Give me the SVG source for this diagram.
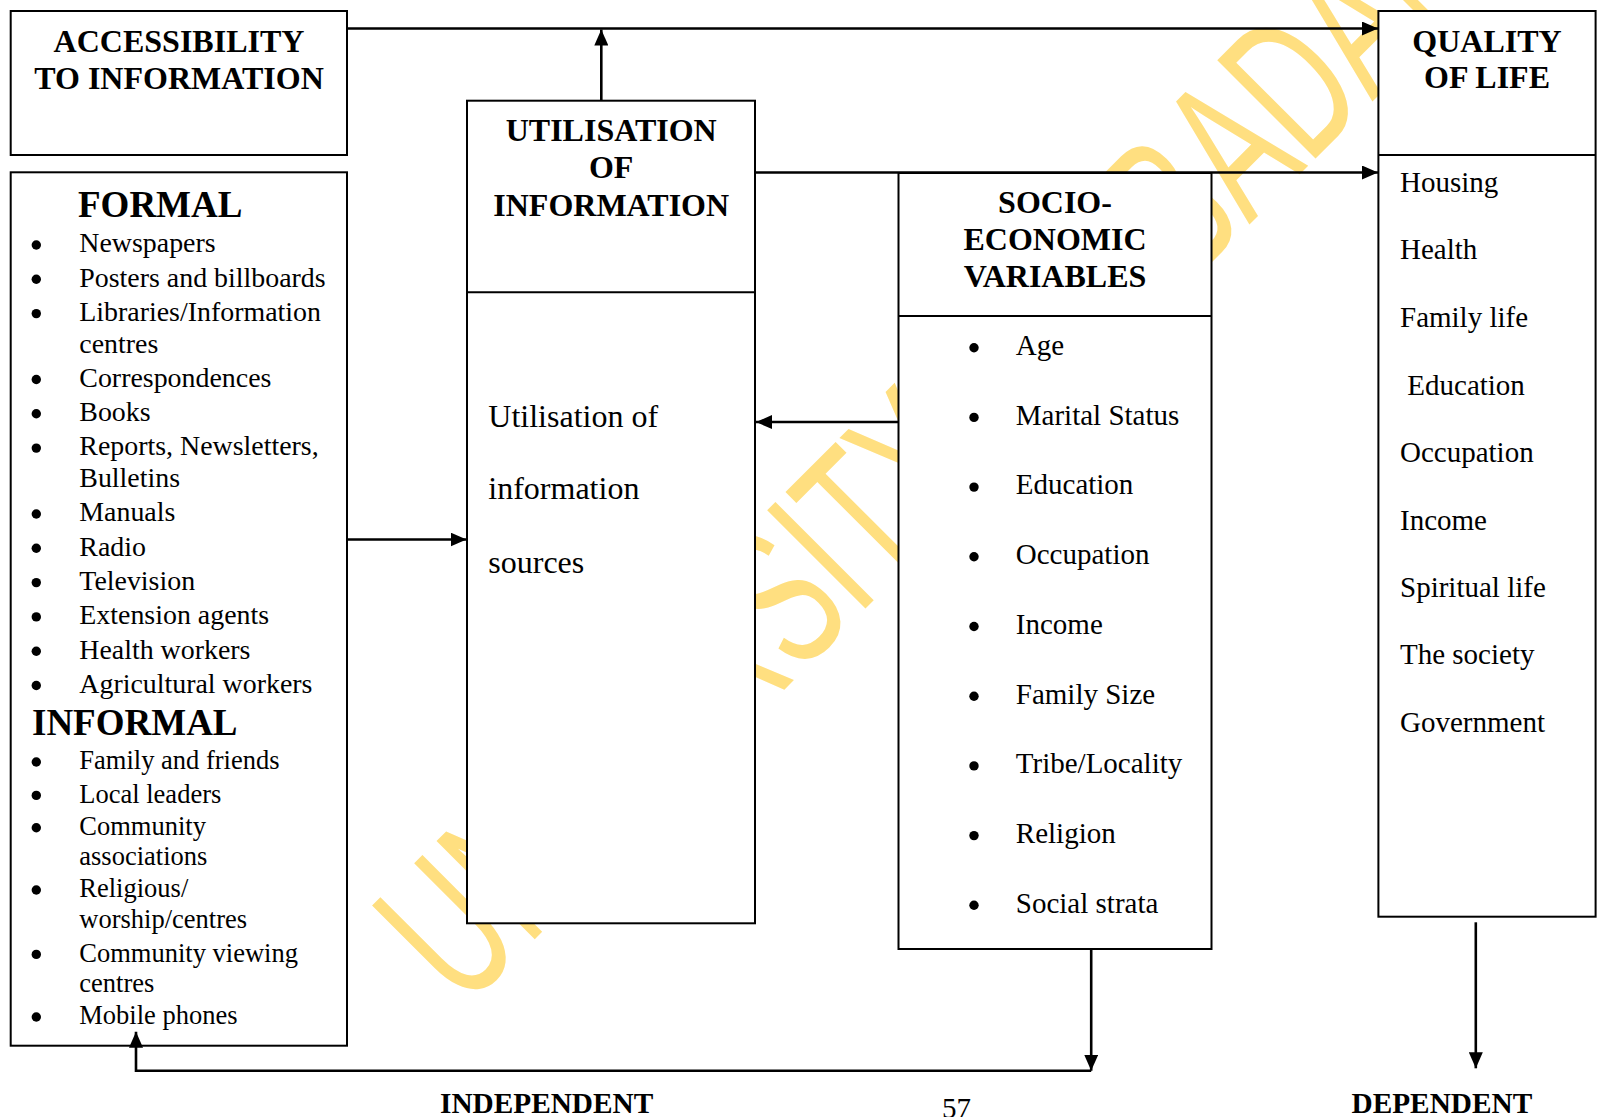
<svg xmlns="http://www.w3.org/2000/svg" width="1597" height="1117" viewBox="0 0 1597 1117">
<style>
.box{fill:#fff;stroke:#000;stroke-width:2}
.div{stroke:#000;stroke-width:2}
.con{fill:none;stroke:#000;stroke-width:2.6}
.t{font-family:"Liberation Serif","Times New Roman",serif;fill:#000}
.h{font-weight:bold;font-size:32px;text-anchor:middle}
.hh{font-weight:bold;font-size:37px}
.f{font-size:27.9px}
.i{font-size:26.5px}
.s{font-size:29px}
.u{font-size:32px}
.b{font-weight:bold;font-size:29.3px}
.wm{font-family:"Liberation Sans",Arial,sans-serif;font-size:202px;fill:#FFDF80}
</style>
<defs>
<marker id="ah" viewBox="0 0 16 14" refX="16" refY="7" markerWidth="16" markerHeight="14" markerUnits="userSpaceOnUse" orient="auto"><path d="M0,0 L16,7 L0,14 z" fill="#000"/></marker>
<g id="dot"><circle r="4.7" fill="#000"/></g>
</defs>
<rect width="1597" height="1117" fill="#fff"/>
<text class="wm" transform="translate(463.5,1010.5) rotate(-45) scale(0.62,1)">UNIVERSITY OF IBADAN</text>

<g id="accessibility">
<rect class="box" x="10.7" y="11" width="336.3" height="144"/>
<text class="t h" x="179" y="51.7">ACCESSIBILITY</text>
<text class="t h" x="179" y="89.3">TO INFORMATION</text>
</g>

<g id="sources">
<rect class="box" x="10.7" y="172.3" width="336.3" height="873.4"/>
<text class="t hh" x="78" y="217.3">FORMAL</text>
<g class="t f">
<text x="79.3" y="252.3">Newspapers</text>
<text x="79.3" y="286.6">Posters and billboards</text>
<text x="79.3" y="320.9">Libraries/Information</text>
<text x="79.3" y="352.5">centres</text>
<text x="79.3" y="386.8">Correspondences</text>
<text x="79.3" y="421.1">Books</text>
<text x="79.3" y="455.4">Reports, Newsletters,</text>
<text x="79.3" y="487">Bulletins</text>
<text x="79.3" y="521.3">Manuals</text>
<text x="79.3" y="555.6">Radio</text>
<text x="79.3" y="589.9">Television</text>
<text x="79.3" y="624.2">Extension agents</text>
<text x="79.3" y="658.5">Health workers</text>
<text x="79.3" y="692.8">Agricultural workers</text>
</g>
<g>
<use href="#dot" x="36.3" y="245"/>
<use href="#dot" x="36.3" y="279.3"/>
<use href="#dot" x="36.3" y="313.6"/>
<use href="#dot" x="36.3" y="379.5"/>
<use href="#dot" x="36.3" y="413.8"/>
<use href="#dot" x="36.3" y="448.1"/>
<use href="#dot" x="36.3" y="514"/>
<use href="#dot" x="36.3" y="548.3"/>
<use href="#dot" x="36.3" y="582.6"/>
<use href="#dot" x="36.3" y="616.9"/>
<use href="#dot" x="36.3" y="651.2"/>
<use href="#dot" x="36.3" y="685.5"/>
</g>
<text class="t hh" x="32" y="735">INFORMAL</text>
<g class="t i">
<text x="79.3" y="769.3">Family and friends</text>
<text x="79.3" y="802.7">Local leaders</text>
<text x="79.3" y="835">Community</text>
<text x="79.3" y="865">associations</text>
<text x="79.3" y="897.3">Religious/</text>
<text x="79.3" y="928.3">worship/centres</text>
<text x="79.3" y="961.7">Community viewing</text>
<text x="79.3" y="992.3">centres</text>
<text x="79.3" y="1024.3">Mobile phones</text>
</g>
<g>
<use href="#dot" x="36.3" y="762"/>
<use href="#dot" x="36.3" y="795.4"/>
<use href="#dot" x="36.3" y="827.7"/>
<use href="#dot" x="36.3" y="890"/>
<use href="#dot" x="36.3" y="954.4"/>
<use href="#dot" x="36.3" y="1017"/>
</g>
</g>

<g id="utilisation">
<rect class="box" x="467" y="100.7" width="288" height="822.6"/>
<line class="div" x1="467" y1="292.3" x2="755" y2="292.3"/>
<text class="t h" x="611.2" y="141">UTILISATION</text>
<text class="t h" x="611.2" y="178.3">OF</text>
<text class="t h" x="611.2" y="216">INFORMATION</text>
<text class="t u" x="488.3" y="426.7">Utilisation of</text>
<text class="t u" x="488.3" y="499.3">information</text>
<text class="t u" x="488.3" y="573.3">sources</text>
</g>

<g id="socio">
<rect class="box" x="898.5" y="173" width="313" height="776"/>
<line class="div" x1="898.5" y1="316" x2="1211.5" y2="316"/>
<text class="t h" x="1055" y="213.3">SOCIO-</text>
<text class="t h" x="1055" y="250">ECONOMIC</text>
<text class="t h" x="1055" y="287.3">VARIABLES</text>
<g class="t s">
<text x="1015.8" y="355">Age</text>
<text x="1015.8" y="424.7">Marital Status</text>
<text x="1015.8" y="494.4">Education</text>
<text x="1015.8" y="564.1">Occupation</text>
<text x="1015.8" y="633.8">Income</text>
<text x="1015.8" y="703.5">Family Size</text>
<text x="1015.8" y="773.2">Tribe/Locality</text>
<text x="1015.8" y="842.9">Religion</text>
<text x="1015.8" y="912.6">Social strata</text>
</g>
<g>
<use href="#dot" x="974" y="347.7"/>
<use href="#dot" x="974" y="417.4"/>
<use href="#dot" x="974" y="487.1"/>
<use href="#dot" x="974" y="556.8"/>
<use href="#dot" x="974" y="626.5"/>
<use href="#dot" x="974" y="696.2"/>
<use href="#dot" x="974" y="765.9"/>
<use href="#dot" x="974" y="835.6"/>
<use href="#dot" x="974" y="905.3"/>
</g>
</g>

<g id="quality">
<rect class="box" x="1378.4" y="11" width="217.2" height="905.7"/>
<line class="div" x1="1378.4" y1="155" x2="1595.6" y2="155"/>
<text class="t h" x="1487" y="51.7">QUALITY</text>
<text class="t h" x="1487" y="88.3">OF LIFE</text>
<g class="t s">
<text x="1400" y="191.7">Housing</text>
<text x="1400" y="259.3">Health</text>
<text x="1400" y="326.7">Family life</text>
<text x="1407.3" y="395">Education</text>
<text x="1400" y="461.7">Occupation</text>
<text x="1400" y="530">Income</text>
<text x="1400" y="596.7">Spiritual life</text>
<text x="1400" y="664.3">The society</text>
<text x="1400" y="732.3">Government</text>
</g>
</g>

<g id="connectors">
<path class="con" d="M347,28.5 H1378" marker-end="url(#ah)"/>
<path class="con" d="M601.3,100.7 V29.5" marker-end="url(#ah)"/>
<path class="con" d="M755,172.5 H1378" marker-end="url(#ah)"/>
<path class="con" d="M898.5,422 H756" marker-end="url(#ah)"/>
<path class="con" d="M347,539.5 H466.5" marker-end="url(#ah)"/>
<path class="con" d="M1091.2,949 V1070.7" marker-end="url(#ah)"/>
<path class="con" d="M1091.2,1070.7 H136 V1031.7" marker-end="url(#ah)"/>
<path class="con" d="M1475.8,922.3 V1068.3" marker-end="url(#ah)"/>
</g>

<g id="labels">
<text class="t b" x="440" y="1113">INDEPENDENT</text>
<text class="t s" x="942" y="1118">57</text>
<text class="t b" x="1351.5" y="1113">DEPENDENT</text>
</g>
</svg>
